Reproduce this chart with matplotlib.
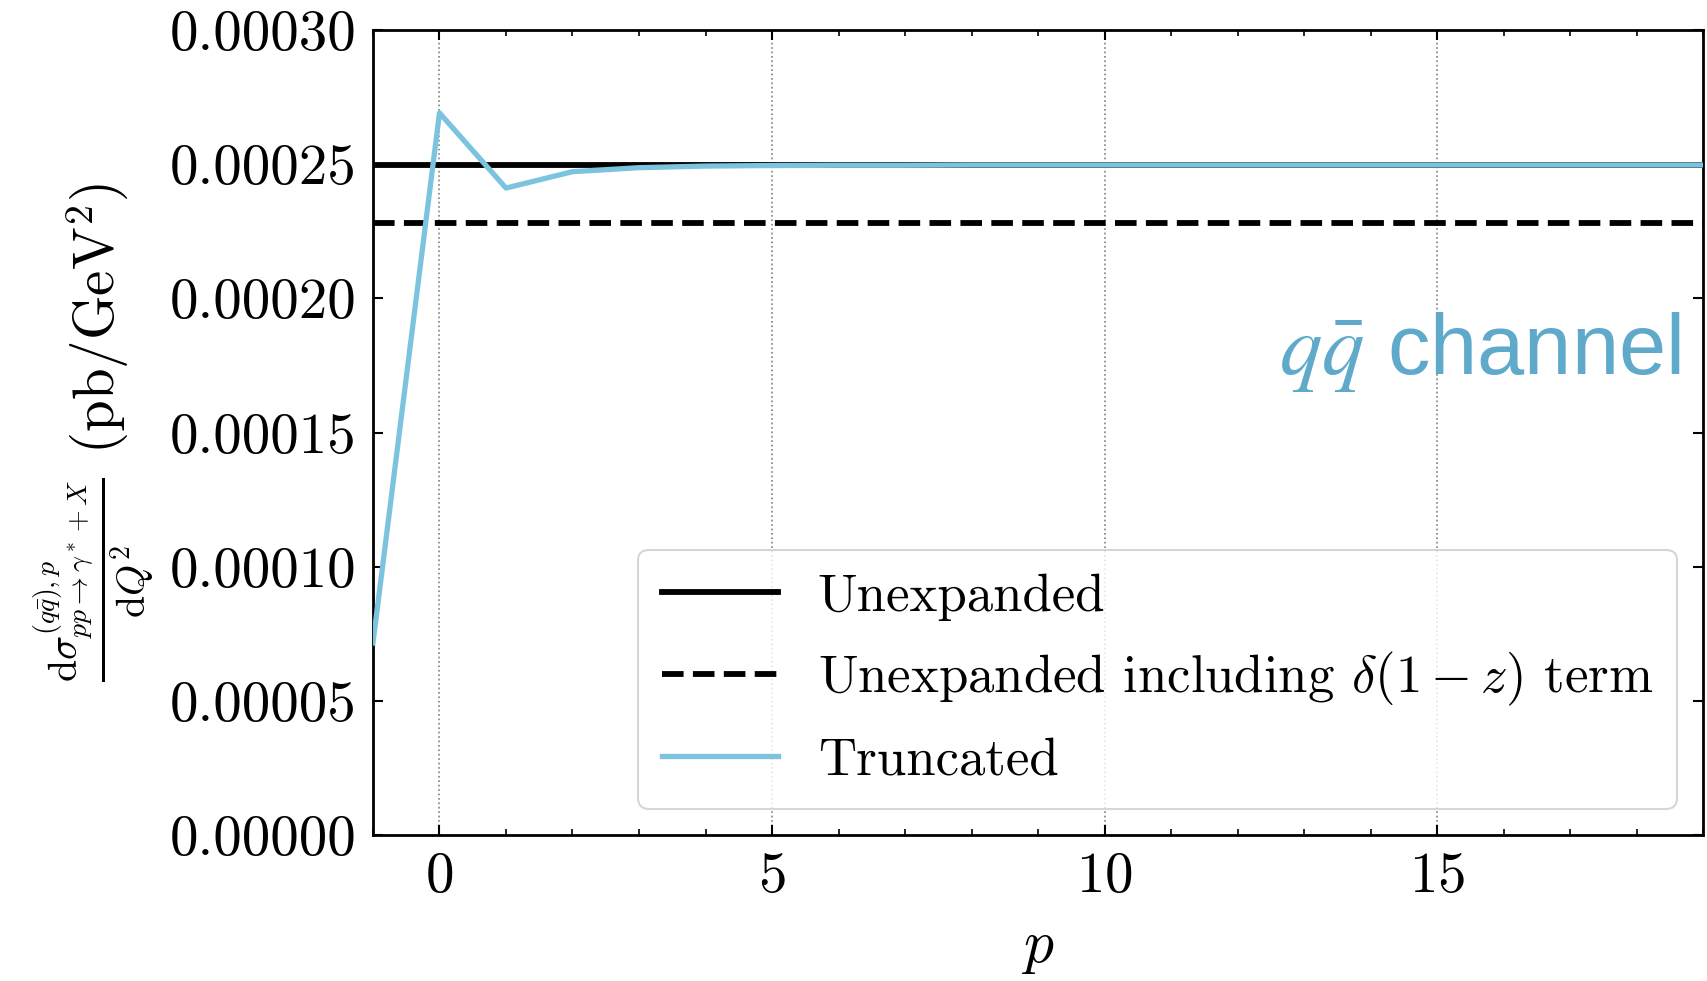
import numpy as np
import matplotlib
matplotlib.use("Agg")
import matplotlib.pyplot as plt
from matplotlib.ticker import MultipleLocator, FormatStrFormatter

# data
p_values = list(range(-1, 20))
truncated = [7.16e-5, 2.691e-4, 2.411e-4, 2.472e-4, 2.487e-4, 2.493e-4, 2.495e-4,
             2.496e-4, 2.496e-4, 2.497e-4, 2.497e-4, 2.497e-4, 2.497e-4, 2.497e-4,
             2.497e-4, 2.497e-4, 2.497e-4, 2.497e-4, 2.497e-4, 2.497e-4, 2.497e-4]
unexpanded = 2.497e-4
unexpanded_delta = 2.282e-4

labels = ['Unexpanded', r'Unexpanded including $\delta(1-z)$ term', 'Truncated']
blue = '#7cc3de'
text_blue = '#5fa9cb'

plt.rcParams['font.family'] = 'serif'
plt.rcParams['font.serif'] = ['cmr10']
plt.rcParams['mathtext.fontset'] = 'cm'
plt.rcParams['axes.formatter.use_mathtext'] = True
plt.rcParams['axes.unicode_minus'] = False

fs = 41

fig = plt.figure(figsize=(17.07, 9.81), dpi=100)
ax = fig.add_axes([0.2185, 0.1488, 0.9977 - 0.2185, 0.9694 - 0.1488])

ax.axhline(unexpanded, color='black', lw=4.2, label=labels[0], zorder=2)
ax.axhline(unexpanded_delta, color='black', lw=4.2, ls='--', label=labels[1], zorder=2)
ax.plot(p_values, truncated, color=blue, lw=3.8, label=labels[2], zorder=3)

ax.set_xlim(-1, 19)
ax.set_ylim(0, 0.0003)
ax.xaxis.set_major_locator(MultipleLocator(5))
ax.xaxis.set_minor_locator(MultipleLocator(1))
ax.yaxis.set_major_locator(MultipleLocator(0.00005))
ax.yaxis.set_major_formatter(FormatStrFormatter('%.5f'))

ax.tick_params(which='both', direction='in', top=True, right=True, labelsize=fs)
ax.tick_params(which='major', length=7, width=1.5, pad=12)
ax.tick_params(which='minor', length=4.5, width=1.2)
for s in ax.spines.values():
    s.set_linewidth(2.0)

ax.grid(axis='x', which='major', linestyle=':', color='gray', lw=1.2)

ax.set_xlabel(r'$p$', fontsize=fs + 2, labelpad=14)
ax.set_ylabel(r'$\frac{\mathrm{d}\sigma^{(q\bar{q}),p}_{pp\to\gamma^*+X}}{\mathrm{d}Q^2}$ (pb/GeV$^2$)',
              fontsize=fs, labelpad=10)

leg = ax.legend(loc='lower right', fontsize=38, handlelength=2.2, labelspacing=0.56,
                borderpad=0.45, handletextpad=0.75, borderaxespad=0.5)
leg.get_frame().set_edgecolor('#cccccc')
leg.get_frame().set_linewidth(1.5)

ax.text(0.983, 0.6, r'$q\bar{q}$ channel', transform=ax.transAxes, ha='right',
        va='center', fontsize=61, color=text_blue, family='Liberation Sans',
        math_fontfamily='stix')

fig.savefig('out.png', dpi=100)
